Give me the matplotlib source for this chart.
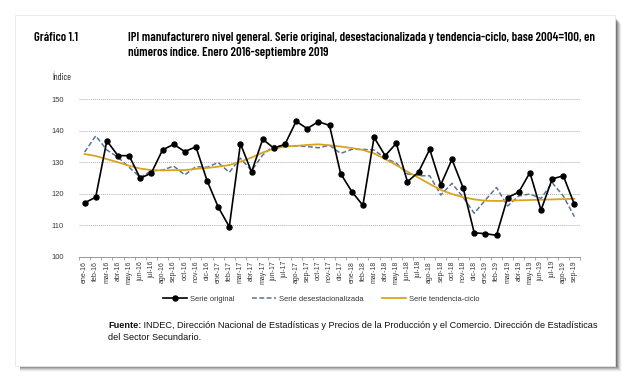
import matplotlib
matplotlib.use("Agg")
import matplotlib.pyplot as plt
from matplotlib.patches import Rectangle
import numpy as np

months = ["ene", "feb", "mar", "abr", "may", "jun", "jul", "ago", "sep", "oct", "nov", "dic"]
labels = [f"{m}-{y}" for y in ["16", "17", "18", "19"] for m in months][:45]

original = [117.1, 118.9, 136.8, 132.1, 132.1, 124.9, 126.6, 133.9, 135.7, 133.4, 134.9, 124.2,
            115.8, 109.5, 135.9, 126.9, 137.3, 134.5, 135.7, 143.0, 140.7, 142.9, 141.7, 126.4,
            120.7, 116.3, 137.9, 132.1, 136.0, 123.8, 126.9, 134.1, 122.9, 130.9, 121.9, 107.6,
            107.3, 106.8, 118.8, 120.5, 126.7, 114.8, 124.7, 125.7, 116.6]
desest = [133.2, 138.4, 133.9, 131.6, 128.4, 125.2, 127.3, 127.5, 128.8, 126.0, 128.6, 128.4,
          129.9, 126.8, 131.3, 127.3, 132.3, 135.3, 135.0, 135.2, 135.0, 134.6, 135.4, 132.8,
          134.1, 134.1, 133.9, 131.3, 129.7, 126.3, 125.7, 125.7, 119.6, 123.3, 118.9, 113.8,
          118.0, 122.0, 116.1, 119.3, 119.9, 118.5, 123.5, 119.3, 112.7]
tendencia = [132.6, 132.0, 131.0, 130.0, 128.9, 128.0, 127.5, 127.4, 127.5, 127.5, 127.9, 128.2,
             128.6, 129.1, 130.2, 131.5, 133.1, 134.3, 135.0, 135.2, 135.5, 135.7, 135.4, 135.0,
             134.5, 133.9, 132.8, 131.0, 129.1, 127.0, 125.1, 123.1, 121.2, 119.9, 118.9, 118.2,
             117.8, 117.7, 117.8, 117.9, 118.0, 118.1, 118.2, 118.3, 118.4]
yticks = [100, 110, 120, 130, 140, 150]

plt.rcParams["font.family"] = ["Liberation Sans", "DejaVu Sans"]

W, H = 630, 382
fig = plt.figure(figsize=(W / 100, H / 100), dpi=100)
fig.patch.set_facecolor("white")

# panel shadow and panel
for i, a in enumerate(np.linspace(0.45, 0.04, 7)):
    fig.patches.append(Rectangle((20 / W, (H - 366 - i) / H), (596 + i) / W, 348 / H,
                                 transform=fig.transFigure, facecolor="black", alpha=a * 0.55,
                                 edgecolor="none", zorder=0))
fig.patches.append(Rectangle((15 / W, (H - 366) / H), 600 / W, 351 / H, transform=fig.transFigure,
                             facecolor="white", edgecolor="#e8e8e8", linewidth=0.6, zorder=1))

ax = fig.add_axes([79 / W, 1 - 256.7 / H, 501 / W, (256.7 - 99.3) / H])
ax.set_zorder(2)
ax.patch.set_alpha(0)
x = np.arange(len(labels))
ax.plot(x, original, color="black", lw=1.2, marker="o", ms=3.6, zorder=4, label="Serie original")
ax.plot(x, desest, color="#5b7591", lw=1.1, ls=(0, (3.2, 1.6)), zorder=3, label="Serie desestacionalizada")
ax.plot(x, tendencia, color="#d9a420", lw=1.3, zorder=3.5, label="Serie tendencia-ciclo")

ax.set_xlim(-0.5, len(labels) - 0.5)
ax.set_ylim(100, 150)
ax.set_yticks(yticks)
ax.set_yticklabels([str(v) for v in yticks], fontsize=5.4, color="#3a3a3a")
ax.set_xticks(x)
ax.set_xticklabels(labels, rotation=90, fontsize=5.0, color="#3a3a3a")
ax.set_xticks(np.arange(-0.5, len(labels)), minor=True)
ax.tick_params(axis="x", which="major", length=0, pad=3)
ax.tick_params(axis="x", which="minor", length=2.5, width=0.5, color="#888888")
ax.tick_params(axis="y", length=0, pad=11)
for s in ["top", "right", "left"]:
    ax.spines[s].set_visible(False)
ax.spines["bottom"].set_color("#888888")
ax.spines["bottom"].set_linewidth(0.6)
for v in yticks[1:]:
    ax.axhline(v, color="#b0b0b0", lw=0.7, ls=(0, (1, 1)), zorder=1)

leg = fig.legend(loc="center", bbox_to_anchor=(321 / W, 1 - 299 / H), ncol=3, frameon=False,
                 fontsize=5.4, handlelength=3.2, columnspacing=2.4, handletextpad=0.4)
for t in leg.get_texts():
    t.set_color("#333333")

cond = ["Barlow Condensed", "DejaVu Sans"]
fig.text(34 / W, 1 - 38 / H, "Gráfico 1.1", fontsize=9.0, fontweight="semibold", family=cond, va="center")
fig.text(128 / W, 1 - 38 / H, "IPI manufacturero nivel general. Serie original, desestacionalizada y tendencia-ciclo, base 2004=100, en",
         fontsize=9.1, fontweight="semibold", family=cond, va="center")
fig.text(128 / W, 1 - 53 / H, "números índice. Enero 2016-septiembre 2019",
         fontsize=9.1, fontweight="semibold", family=cond, va="center")
fig.text(52 / W, 1 - 78 / H, "Índice", fontsize=6.6, family=cond, va="center", color="#222222")

fu = fig.text(108 / W, 1 - 325 / H, "Fuente:", fontsize=6.6, fontweight="bold", va="center", color="#111111")
ax.annotate(" INDEC, Dirección Nacional de Estadísticas y Precios de la Producción y el Comercio. Dirección de Estadísticas",
            xy=(1, 0.5), xycoords=fu, va="center", ha="left", fontsize=6.6, color="#111111",
            annotation_clip=False)
fig.text(108 / W, 1 - 337 / H, "del Sector Secundario.", fontsize=6.6, va="center", color="#111111")

fig.savefig("out.png", dpi=100)
